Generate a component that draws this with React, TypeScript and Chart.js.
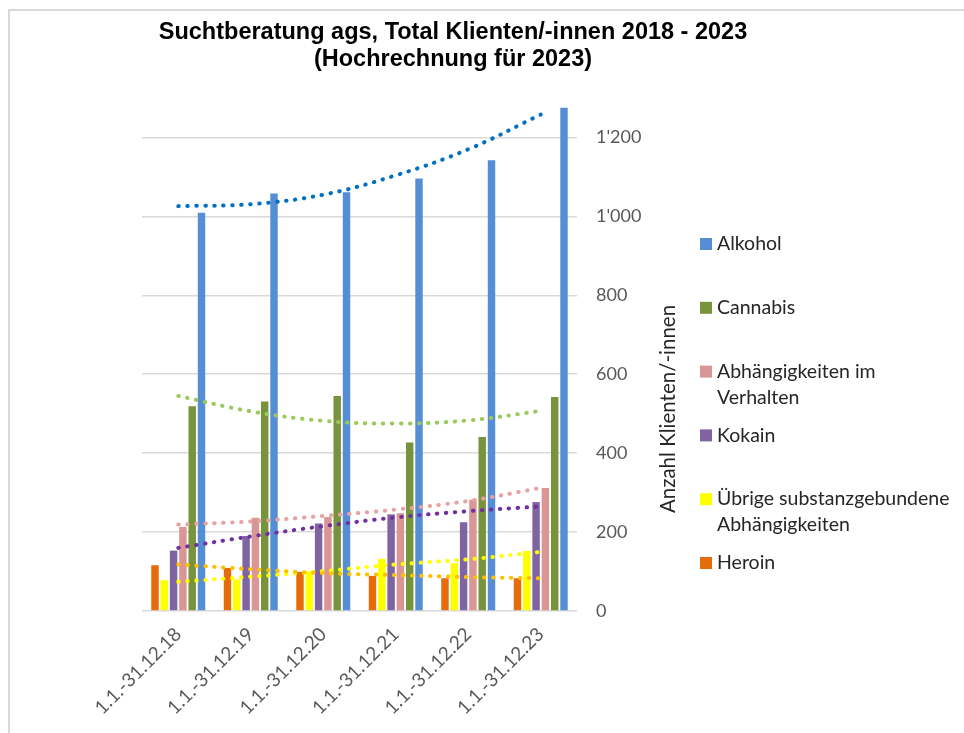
import React, { useEffect, useRef } from "react";
import { Chart, registerables } from "chart.js";

Chart.register(...registerables);

const categories = [
  "1.1.-31.12.18",
  "1.1.-31.12.19",
  "1.1.-31.12.20",
  "1.1.-31.12.21",
  "1.1.-31.12.22",
  "1.1.-31.12.23",
];

// Bar series (order in each group: Heroin, Übrige, Kokain, Verhalten, Cannabis, Alkohol)
const heroin = [116, 109, 99, 89, 83, 83];
const uebrige = [78, 80, 101, 132, 121, 152];
const kokain = [153, 190, 222, 245, 225, 276];
const verhalten = [213, 236, 238, 248, 282, 312];
const cannabis = [519, 531, 545, 427, 441, 542];
const alkohol = [1009, 1058, 1061, 1096, 1142, 1275];

// Trend lines (at each category)
const heroinTrend = [118, 106, 96, 91, 86, 83];
const uebrigeTrend = [74, 87, 101, 118, 131, 150];
const kokainTrend = [160, 189, 215, 237, 253, 265];
const verhaltenTrend = [219, 227, 241, 257, 279, 312];
const cannabisTrend = [545, 506, 482, 475, 483, 507];
const alkoholTrend = [1026, 1031, 1055, 1104, 1170, 1258];

const yTicks = [0, 200, 400, 600, 800, 1000, 1200];

const titleLines = ["Suchtberatung ags, Total Klienten/-innen 2018 - 2023", "(Hochrechnung für 2023)"];
const axisTitle = "Anzahl Klienten/-innen";

const FONT = "Lato, 'Open Sans', sans-serif";

function fmt(v: number): string {
  return String(Math.round(v)).replace(/\B(?=(\d{3})+(?!\d))/g, "'");
}

function wrap(ctx: CanvasRenderingContext2D, text: string, maxW: number): string[] {
  const words = text.split(" ");
  const lines: string[] = [];
  let cur = "";
  for (const w of words) {
    const t = cur ? cur + " " + w : w;
    if (ctx.measureText(t).width > maxW && cur) {
      lines.push(cur);
      cur = w;
    } else cur = t;
  }
  if (cur) lines.push(cur);
  return lines;
}

const decor = {
  id: "decor",
  beforeDraw(chart: any) {
    const ctx = chart.ctx as CanvasRenderingContext2D;
    ctx.save();
    ctx.fillStyle = "#ffffff";
    ctx.fillRect(0, 0, chart.width, chart.height);
    ctx.strokeStyle = "#d9d9d9";
    ctx.lineWidth = 2;
    ctx.beginPath();
    ctx.moveTo(9, chart.height);
    ctx.lineTo(9, 10);
    ctx.lineTo(chart.width, 10);
    ctx.stroke();
    ctx.restore();
  },
  afterDraw(chart: any) {
    const ctx = chart.ctx as CanvasRenderingContext2D;
    ctx.save();
    // Title
    ctx.fillStyle = "#000000";
    ctx.font = "bold 23.5px 'Liberation Sans', Arial, sans-serif";
    ctx.textAlign = "center";
    ctx.textBaseline = "middle";
    titleLines.forEach((l, i) => ctx.fillText(l, 453, 33 + i * 27));

    // Axis title (rotated, reading bottom to top)
    ctx.fillStyle = "#262626";
    ctx.font = `20.5px ${FONT}`;
    ctx.translate(668, 409);
    ctx.rotate(-Math.PI / 2);
    ctx.fillText(axisTitle, 0, 0);
    ctx.setTransform(1, 0, 0, 1, 0, 0);

    // Legend
    const bars = chart.data.datasets.filter((d: any) => d.type === "bar").slice().reverse();
    ctx.font = `19.5px ${FONT}`;
    ctx.textAlign = "left";
    ctx.textBaseline = "middle";
    bars.forEach((d: any, i: number) => {
      const y = 244 + i * 63.8;
      ctx.fillStyle = d.backgroundColor;
      ctx.fillRect(700, y - 6, 12, 12);
      ctx.fillStyle = "#262626";
      const lines = wrap(ctx, d.label, 240);
      lines.forEach((l, j) => ctx.fillText(l, 717, y + j * 26));
    });
    ctx.restore();
  },
};

export default function App() {
  const ref = useRef<HTMLCanvasElement>(null);
  useEffect(() => {
    document.body.style.margin = "0";
    const bar = (label: string, data: number[], color: string) => ({
      type: "bar" as const,
      label,
      data,
      backgroundColor: color,
      order: 1,
      barPercentage: 0.8,
      categoryPercentage: 0.77,
    });
    const trend = (label: string, data: number[], color: string) => ({
      type: "line" as const,
      label,
      data,
      borderColor: color,
      backgroundColor: color,
      borderWidth: 4,
      borderDash: [0.5, 8.5],
      borderCapStyle: "round" as const,
      pointRadius: 0,
      tension: 0.4,
      fill: false,
      order: 0,
    });
    const chart = new Chart(ref.current!, {
      type: "bar",
      data: {
        labels: categories,
        datasets: [
          bar("Heroin", heroin, "#E46C0A"),
          bar("Übrige substanzgebundene Abhängigkeiten", uebrige, "#FFFF00"),
          bar("Kokain", kokain, "#8064A2"),
          bar("Abhängigkeiten im Verhalten", verhalten, "#D99694"),
          bar("Cannabis", cannabis, "#77933C"),
          bar("Alkohol", alkohol, "#558ED5"),
          trend("Trend Heroin", heroinTrend, "#FFC000"),
          trend("Trend Übrige", uebrigeTrend, "#FFFF00"),
          trend("Trend Verhalten", verhaltenTrend, "#E6A3A1"),
          trend("Trend Kokain", kokainTrend, "#7030A0"),
          trend("Trend Cannabis", cannabisTrend, "#9BC95C"),
          trend("Trend Alkohol", alkoholTrend, "#0070C0"),
        ] as any,
      },
      options: {
        responsive: false,
        animation: false,
        layout: { padding: { left: 142, top: 98, right: 0, bottom: 0 } },
        plugins: {
          legend: { display: false },
          tooltip: { enabled: false },
          title: { display: false },
        },
        scales: {
          x: {
            grid: { display: false, drawTicks: false },
            border: { display: false },
            ticks: {
              maxRotation: 45,
              minRotation: 45,
              padding: 12,
              color: "#595959",
              font: { family: FONT, size: 19 },
            },
            afterFit: (s: any) => {
              s.height = 122;
            },
          },
          y: {
            position: "right",
            min: 0,
            max: 1300,
            ticks: {
              stepSize: 200,
              padding: 19,
              color: "#595959",
              font: { family: FONT, size: 18 },
              callback: (v: any) => fmt(Number(v)),
            },
            afterBuildTicks: (s: any) => {
              s.ticks = yTicks.map((v) => ({ value: v }));
            },
            afterFit: (s: any) => {
              s.width = 387;
            },
            grid: { color: "#d9d9d9", lineWidth: 1.6, drawTicks: false },
            border: { display: false },
          },
        },
      } as any,
      plugins: [decor],
    });
    return () => chart.destroy();
  }, []);
  return (
    <div style={{ width: 964, height: 733 }}>
      <canvas ref={ref} width={964} height={733} style={{ display: "block" }} />
    </div>
  );
}
